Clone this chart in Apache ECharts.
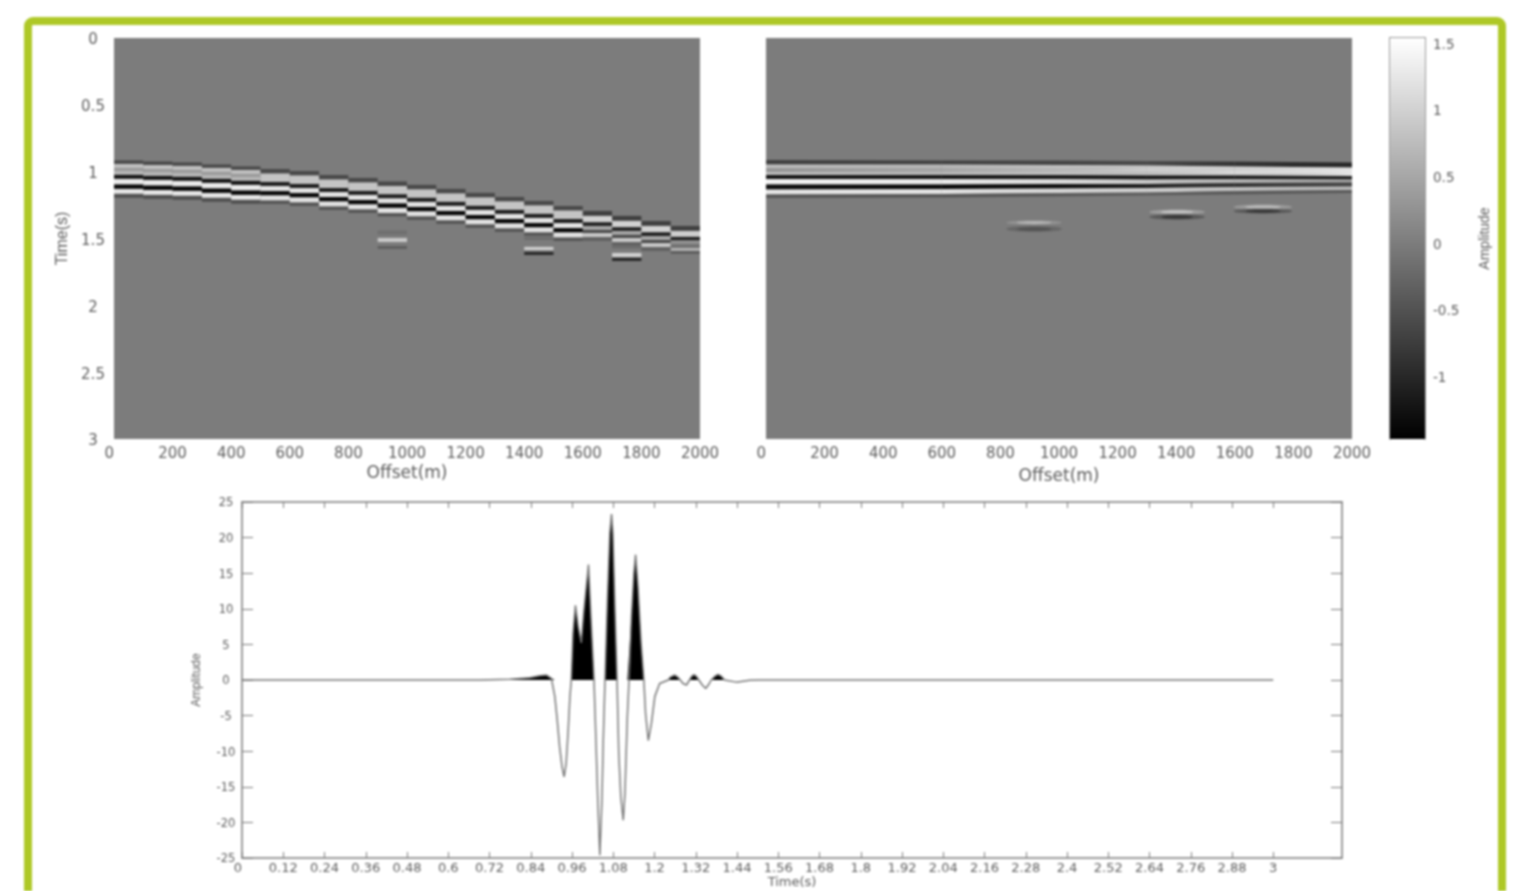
<!DOCTYPE html>
<html>
<head>
<meta charset="utf-8">
<title>Seismic sections</title>
<script src="https://cdn.jsdelivr.net/npm/echarts@6/dist/echarts.min.js"></script>
<style>
    html, body { margin: 0; padding: 0; background: #fff; overflow: hidden; }
    #chart-container { width: 1522px; height: 891px; filter: blur(1px); }
</style>
</head>
<body>
<div id="chart-container"></div>
<script>
var offsetTicks = [0, 200, 400, 600, 800, 1000, 1200, 1400, 1600, 1800, 2000];
var sectionTimeTicks = [0, 0.5, 1, 1.5, 2, 2.5, 3];
var colorbarTicks = [-1, -0.5, 0, 0.5, 1, 1.5];
var colorMin = -1.46;
var colorMax = 1.545;

// left panel: one onset time per 100 m trace, and the band shape that trace uses
var leftTraces = [0, 100, 200, 300, 400, 500, 600, 700, 800, 900, 1000, 1100, 1200, 1300, 1400, 1500, 1600, 1700, 1800, 1900];
var leftOnsets = [0.916, 0.924, 0.931, 0.946, 0.961, 0.980, 0.995, 1.025, 1.047, 1.073, 1.099, 1.129, 1.159, 1.189, 1.219, 1.257, 1.294, 1.331, 1.369, 1.406];
var leftShapeOfTrace = [0, 0, 0, 0, 0, 1, 1, 1, 1, 1, 1, 1, 1, 1, 1, 1, 2, 2, 2, 3];

// band edges after onset (s), and the amplitude between two edges
var shapeEdges = [
    [0, 0.026, 0.056, 0.079, 0.108, 0.138, 0.180, 0.213, 0.250, 0.280],
    [0, 0.034, 0.097, 0.127, 0.165, 0.198, 0.236, 0.262],
    [0, 0.037, 0.085, 0.112, 0.142, 0.165, 0.195, 0.225],
    [0, 0.037, 0.082, 0.108, 0.135, 0.165, 0.187, 0.209]
];
var shapeAmps = [
    [-0.6, 0.8, 0.35, 0.7, -1.2, 1.3, -1.35, 1.25, -0.5],
    [-0.6, 0.85, -1.1, 1.2, -1.35, 1.2, -0.45],
    [-0.7, 1.0, -1.1, 0.5, -0.6, 0.9, -0.3],
    [-0.7, 0.95, -1.1, 0.25, -0.1, 0.65, -0.35]
];

// left panel isolated events: trace offset, top time, bottom time, amplitude
var leftEvents = [
    [900, 1.44, 1.47, -0.15], [900, 1.496, 1.526, 0.9], [900, 1.556, 1.578, -0.35],
    [1400, 1.49, 1.51, -0.2], [1400, 1.563, 1.586, 1.0], [1400, 1.601, 1.623, -1.0],
    [1700, 1.55, 1.574, -0.2], [1700, 1.608, 1.638, 1.0], [1700, 1.645, 1.668, -1.0]
];

// right panel: flattened bands at a few stations
var rightStations = [0, 600, 1000, 1300, 1600, 2000];
var rightEdges = [
    [0.9125, 0.946, 0.972, 1.002, 1.025, 1.055, 1.096, 1.133, 1.171, 1.197],
    [0.916, 0.946, 0.972, 1.002, 1.025, 1.055, 1.096, 1.129, 1.167, 1.193],
    [0.916, 0.950, 0.972, 1.002, 1.025, 1.055, 1.092, 1.126, 1.159, 1.185],
    [0.920, 0.954, 0.980, 1.006, 1.028, 1.058, 1.092, 1.122, 1.156, 1.178],
    [0.924, 0.961, 0.984, 1.010, 1.028, 1.055, 1.085, 1.114, 1.144, 1.171],
    [0.931, 0.969, 0.987, 1.017, 1.032, 1.058, 1.081, 1.111, 1.137, 1.159]
];
var rightAmps = [
    [-0.7, 0.75, 0.3, 0.75, -1.2, 1.4, -1.3, 1.25, -0.45],
    [-0.7, 0.7, 0.5, 0.7, -1.2, 1.3, -1.35, 1.2, -0.45],
    [-0.65, 0.8, 0.7, 0.8, -1.15, 1.1, -1.3, 1.05, -0.4],
    [-0.6, 0.9, 0.95, 0.85, -1.2, 0.9, -1.1, 0.95, -0.35],
    [-0.85, 1.05, 1.1, 1.0, -1.15, 0.65, -0.85, 0.8, -0.4],
    [-1.0, 1.2, 1.25, 1.2, -1.1, 0.5, -0.65, 0.7, -0.4]
];

// right panel focused events, outer halo first: centre offset, half width, centre time, half thickness, amplitude
var rightEvents = [
    [915, 95, 1.381, 0.018, 0.25], [915, 60, 1.381, 0.01, 0.7], [915, 95, 1.429, 0.022, -0.25], [915, 60, 1.429, 0.012, -0.5],
    [1403, 95, 1.301, 0.018, 0.4], [1403, 55, 1.301, 0.01, 0.85], [1403, 95, 1.339, 0.02, -0.4], [1403, 55, 1.339, 0.012, -0.85],
    [1696, 100, 1.264, 0.018, 0.35], [1696, 60, 1.264, 0.01, 0.75], [1696, 100, 1.296, 0.018, -0.4], [1696, 60, 1.296, 0.01, -0.85]
];

// bottom trace
var traceTicks = [0, 0.12, 0.24, 0.36, 0.48, 0.6, 0.72, 0.84, 0.96, 1.08, 1.2, 1.32, 1.44, 1.56, 1.68, 1.8, 1.92, 2.04, 2.16, 2.28, 2.4, 2.52, 2.64, 2.76, 2.88, 3];
var traceAmpTicks = [-25, -20, -15, -10, -5, 0, 5, 10, 15, 20, 25];
var traceTimes = [0, 0.692, 0.779, 0.837, 0.866, 0.886, 0.900, 0.905, 0.910, 0.917, 0.924, 0.931, 0.937, 0.943, 0.949, 0.954, 0.958,
    0.963, 0.970, 0.978, 0.987, 0.994, 1.008, 1.015, 1.024, 1.029, 1.035, 1.041, 1.047, 1.051, 1.056,
    1.063, 1.070, 1.075, 1.079, 1.085, 1.091, 1.096, 1.102, 1.109, 1.114, 1.121, 1.126,
    1.133, 1.140, 1.145, 1.152, 1.161, 1.169, 1.174, 1.182, 1.191, 1.201, 1.215, 1.240,
    1.246, 1.259, 1.268, 1.275, 1.283, 1.293, 1.302, 1.308, 1.315, 1.322, 1.329, 1.339, 1.349, 1.358, 1.365, 1.375, 1.385, 1.395, 1.404, 1.438, 1.477, 1.506, 3];
var traceAmps = [0, 0, 0.1, 0.33, 0.6, 0.7, 0.23, 0, -2.3, -5.6, -9.4, -12.2, -13.6, -11.7, -7, -2.3, 0,
    6.6, 10.5, 7.5, 5.2, 9.4, 16.2, 8.9, 0, -7.5, -16.9, -24.6, -16.9, -8.4, 0,
    11.2, 20.6, 23.3, 20.6, 9.8, 0, -10.3, -16.4, -19.7, -15.9, -5.1, 0,
    8.9, 15, 17.6, 13.1, 5.2, 0, -4.7, -8.5, -6.1, -2.3, -0.5, 0,
    0.4, 0.7, 0.4, 0, -0.5, -0.7, 0, 0.5, 0.75, 0.5, 0, -0.7, -1.2, -0.6, 0, 0.5, 0.8, 0.5, 0, -0.3, -0.05, 0, 0];

var TEXT_COLOR = '#5c5c5c';
var AXIS_COLOR = '#7a7a7a';
var SECTION_GREY = '#7c7c7c';

var chart = echarts.init(document.getElementById('chart-container'));

function ampToGrey(amp) {
    var level = Math.round((amp - colorMin) / (colorMax - colorMin) * 255);
    level = Math.max(0, Math.min(255, level));
    return 'rgb(' + level + ',' + level + ',' + level + ')';
}

function rectItem(params, api) {
    var p0 = api.coord([api.value(1), api.value(3)]);
    var p1 = api.coord([api.value(2), api.value(4)]);
    return {
        type: 'rect',
        shape: { x: p0[0], y: p0[1], width: p1[0] - p0[0], height: p1[1] - p0[1] },
        style: { fill: ampToGrey(api.value(0)) }
    };
}

function bandItem(params, api) {
    var x0 = api.value(2);
    var x1 = api.value(3);
    return {
        type: 'polygon',
        shape: {
            points: [
                api.coord([x0, api.value(4)]),
                api.coord([x1, api.value(6)]),
                api.coord([x1, api.value(7)]),
                api.coord([x0, api.value(5)])
            ]
        },
        style: {
            fill: {
                type: 'linear', x: 0, y: 0, x2: 1, y2: 0,
                colorStops: [
                    { offset: 0, color: ampToGrey(api.value(0)) },
                    { offset: 1, color: ampToGrey(api.value(1)) }
                ]
            }
        }
    };
}

function lensItem(params, api) {
    var c = api.coord([api.value(1), api.value(3)]);
    var e = api.coord([api.value(1) + api.value(2), api.value(3) + api.value(4)]);
    return {
        type: 'ellipse',
        shape: { cx: c[0], cy: c[1], rx: e[0] - c[0], ry: e[1] - c[1] },
        style: { fill: ampToGrey(api.value(0)) }
    };
}

function colorbarItem(params, api) {
    var p0 = api.coord([0, colorMax]);
    var p1 = api.coord([1, colorMin]);
    return {
        type: 'rect',
        shape: { x: p0[0], y: p0[1], width: p1[0] - p0[0], height: p1[1] - p0[1] },
        style: {
            fill: {
                type: 'linear', x: 0, y: 0, x2: 0, y2: 1,
                colorStops: [{ offset: 0, color: '#fff' }, { offset: 1, color: '#000' }]
            }
        }
    };
}

function buildLeftCells() {
    var cells = [];
    leftTraces.forEach(function (x, i) {
        var shape = leftShapeOfTrace[i];
        var edges = shapeEdges[shape];
        shapeAmps[shape].forEach(function (amp, b) {
            cells.push([amp, x, x + 100, leftOnsets[i] + edges[b], leftOnsets[i] + edges[b + 1]]);
        });
    });
    leftEvents.forEach(function (e) {
        cells.push([e[3], e[0], e[0] + 100, e[1], e[2]]);
    });
    return cells;
}

function buildRightBands() {
    var bands = [];
    for (var s = 0; s < rightStations.length - 1; s++) {
        rightAmps[s].forEach(function (amp, b) {
            bands.push([amp, rightAmps[s + 1][b], rightStations[s], rightStations[s + 1],
                rightEdges[s][b], rightEdges[s][b + 1],
                rightEdges[s + 1][b], rightEdges[s + 1][b + 1]]);
        });
    }
    return bands;
}

function buildLenses() {
    return rightEvents.map(function (e) {
        return [e[4], e[0], e[1], e[2], e[3]];
    });
}

function zipTrace(positiveOnly) {
    return traceTimes.map(function (t, i) {
        return [t, positiveOnly ? Math.max(0, traceAmps[i]) : traceAmps[i]];
    });
}

function sectionXAxis(gridIndex, nameGap) {
    return {
        gridIndex: gridIndex, type: 'value', min: 0, max: 2000, position: 'bottom',
        name: 'Offset(m)', nameLocation: 'middle', nameGap: nameGap,
        nameTextStyle: { color: TEXT_COLOR, fontFamily: 'DejaVu Sans', fontSize: 17 },
        axisLine: { show: false }, axisTick: { show: false }, splitLine: { show: false },
        axisLabel: {
            customValues: offsetTicks, color: TEXT_COLOR, fontFamily: 'DejaVu Sans', fontSize: 15,
            margin: 8, alignMinLabel: 'right', formatter: String
        }
    };
}

function traceFrameAxis(isX, position, showLabels) {
    var axis = {
        gridIndex: 2, type: 'value', position: position,
        min: isX ? 0 : -25, max: isX ? 3.2 : 25,
        axisLine: { show: true, onZero: false, lineStyle: { color: AXIS_COLOR, width: 1.5 } },
        axisTick: { show: true, inside: true, length: isX ? 6 : 11, customValues: isX ? traceTicks : traceAmpTicks, lineStyle: { color: AXIS_COLOR } },
        splitLine: { show: false },
        axisLabel: { show: showLabels }
    };
    if (showLabels) {
        axis.axisLabel = {
            show: true, customValues: isX ? traceTicks : traceAmpTicks,
            color: TEXT_COLOR, fontFamily: 'DejaVu Sans', fontSize: isX ? 13 : 11.5,
            margin: isX ? 4 : 16
        };
        axis.name = isX ? 'Time(s)' : 'Amplitude';
        axis.nameLocation = 'middle';
        axis.nameGap = isX ? 15 : 39;
        axis.nameTextStyle = isX ?
            { color: TEXT_COLOR, fontFamily: 'DejaVu Sans', fontSize: 13 } :
            { color: TEXT_COLOR, fontFamily: 'Liberation Sans', fontSize: 12 };
        if (isX) {
            axis.axisLabel.alignMinLabel = 'right';
        } else {
            axis.axisLabel.align = 'center';
            axis.axisLabel.verticalAlign = 'top';
            axis.axisLabel.lineHeight = 3;
        }
    }
    return axis;
}

var option = {
    animation: false,
    backgroundColor: '#fff',
    graphic: [{
        type: 'rect', silent: true,
        shape: { x: 28, y: 21, width: 1474, height: 900, r: 5 },
        style: { fill: 'none', stroke: '#aec827', lineWidth: 8 }
    }],
    grid: [
        { left: 114, top: 38, width: 586, height: 401, show: true, backgroundColor: SECTION_GREY, borderWidth: 0 },
        { left: 766, top: 38, width: 586, height: 401, show: true, backgroundColor: SECTION_GREY, borderWidth: 0 },
        { left: 242, top: 502, width: 1100, height: 356, show: false },
        { left: 1390, top: 38, width: 35, height: 401, show: false }
    ],
    xAxis: [
        sectionXAxis(0, 26),
        sectionXAxis(1, 29),
        traceFrameAxis(true, 'bottom', true),
        traceFrameAxis(true, 'top', false),
        {
            gridIndex: 3, type: 'value', min: 0, max: 1, position: 'top',
            axisLine: { show: true, onZero: false, lineStyle: { color: AXIS_COLOR, width: 1.5 } },
            axisTick: { show: false }, axisLabel: { show: false }, splitLine: { show: false }
        }
    ],
    yAxis: [
        {
            gridIndex: 0, type: 'value', min: 0, max: 3, inverse: true,
            name: 'Time(s)', nameLocation: 'middle', nameGap: 43,
            nameTextStyle: { color: TEXT_COLOR, fontFamily: 'Liberation Sans', fontSize: 16 },
            axisLine: { show: false }, axisTick: { show: false }, splitLine: { show: false },
            axisLabel: {
                customValues: sectionTimeTicks, color: TEXT_COLOR, fontFamily: 'DejaVu Sans', fontSize: 15,
                align: 'center', margin: 21, verticalAlign: 'top', lineHeight: 5
            }
        },
        { gridIndex: 1, type: 'value', min: 0, max: 3, inverse: true, show: false },
        traceFrameAxis(false, 'left', true),
        traceFrameAxis(false, 'right', false),
        {
            gridIndex: 3, type: 'value', min: colorMin, max: colorMax, position: 'right',
            name: 'Amplitude', nameLocation: 'middle', nameGap: 53, nameRotate: 90,
            nameTextStyle: { color: TEXT_COLOR, fontFamily: 'Liberation Sans', fontSize: 14 },
            axisLine: { show: true, onZero: false, lineStyle: { color: AXIS_COLOR, width: 1.5 } },
            axisTick: { show: true, inside: true, length: 5, customValues: colorbarTicks, lineStyle: { color: '#444' } },
            axisLabel: { customValues: colorbarTicks, color: TEXT_COLOR, fontFamily: 'DejaVu Sans', fontSize: 13.5, margin: 8, verticalAlign: 'top', lineHeight: 2 },
            splitLine: { show: false }
        },
        {
            gridIndex: 3, type: 'value', min: colorMin, max: colorMax, position: 'left',
            axisLine: { show: true, onZero: false, lineStyle: { color: AXIS_COLOR, width: 1.5 } },
            axisTick: { show: false }, axisLabel: { show: false }, splitLine: { show: false }
        }
    ],
    series: [
        { type: 'custom', xAxisIndex: 0, yAxisIndex: 0, renderItem: rectItem, data: buildLeftCells(), silent: true, clip: true },
        { type: 'custom', xAxisIndex: 1, yAxisIndex: 1, renderItem: bandItem, data: buildRightBands(), silent: true, clip: true },
        { type: 'custom', xAxisIndex: 1, yAxisIndex: 1, renderItem: lensItem, data: buildLenses(), silent: true, clip: true },
        {
            type: 'line', xAxisIndex: 2, yAxisIndex: 2, data: zipTrace(false), showSymbol: false, silent: true,
            lineStyle: { color: '#777', width: 1.5 }
        },
        {
            type: 'line', xAxisIndex: 2, yAxisIndex: 2, data: zipTrace(true), showSymbol: false, silent: true,
            lineStyle: { width: 0 }, areaStyle: { color: '#000', opacity: 1, origin: 'auto' }
        },
        {
            type: 'custom', xAxisIndex: 4, yAxisIndex: 4, renderItem: colorbarItem, data: [[0, 0]], silent: true, z: 1
        }
    ]
};

chart.setOption(option);
</script>
</body>
</html>
